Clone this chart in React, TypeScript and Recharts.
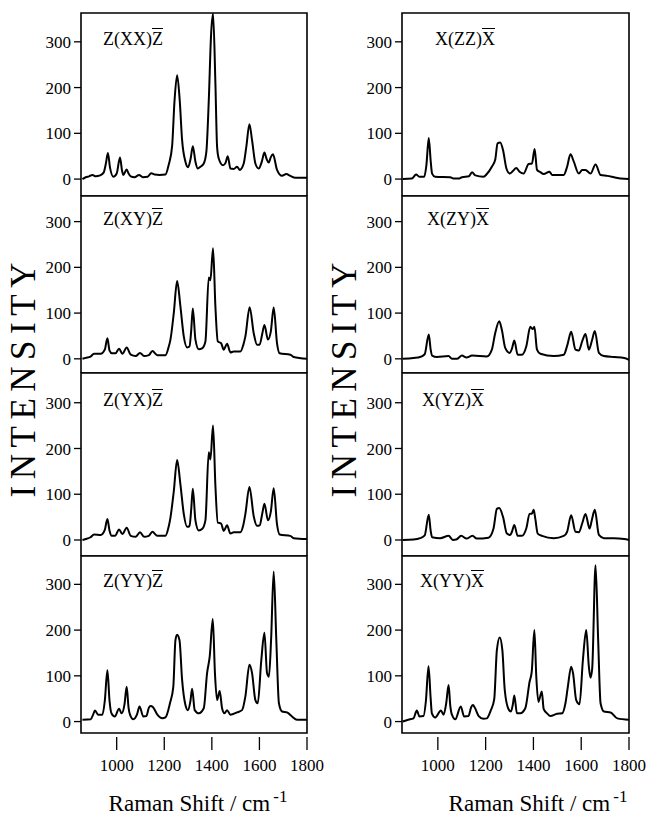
import React from 'react';
import { LineChart, Line, XAxis, YAxis, ReferenceArea } from 'recharts';

// Raman spectra, [wavenumber cm-1, intensity]
const zxx: [number, number][] = [
  [856, 0], [870, 4], [884, 6], [898, 9], [912, 6], [930, 8], [945, 14], [955, 35], [963, 57], [972, 25],
  [986, 5], [1000, 12], [1014, 47], [1022, 20], [1028, 9], [1042, 21], [1050, 12], [1059, 6], [1075, 4], [1094, 9],
  [1110, 4], [1130, 5], [1145, 13], [1160, 10], [1180, 9], [1205, 10], [1219, 32], [1233, 72], [1243, 170], [1254, 227],
  [1265, 172], [1275, 85], [1289, 38], [1300, 26], [1311, 45], [1320, 72], [1331, 38], [1341, 23], [1352, 27], [1366, 34],
  [1377, 60], [1387, 170], [1397, 318], [1405, 362], [1415, 209], [1422, 71], [1429, 45], [1447, 30], [1458, 36], [1467, 50],
  [1478, 23], [1492, 22], [1506, 27], [1517, 20], [1534, 34], [1545, 71], [1558, 120], [1569, 85], [1583, 34], [1597, 23],
  [1610, 38], [1621, 58], [1630, 44], [1639, 36], [1648, 48], [1657, 54], [1674, 20], [1695, 7], [1713, 11], [1730, 7],
  [1751, 3], [1800, 3],
];

const zxy: [number, number][] = [
  [856, 0], [870, 2], [890, 5], [905, 11], [933, 11], [950, 20], [961, 45], [970, 18], [980, 12], [995, 12],
  [1010, 22], [1024, 11], [1042, 25], [1059, 9], [1080, 6], [1098, 13], [1115, 6], [1135, 8], [1150, 17], [1171, 8],
  [1205, 8], [1218, 25], [1226, 42], [1240, 100], [1254, 170], [1268, 114], [1282, 49], [1296, 25], [1306, 27], [1313, 60],
  [1320, 110], [1331, 42], [1345, 21], [1359, 23], [1373, 38], [1387, 178], [1394, 172], [1405, 242], [1415, 114], [1425, 38],
  [1439, 34], [1450, 20], [1464, 33], [1478, 14], [1492, 16], [1520, 16], [1532, 30], [1541, 49], [1559, 113], [1576, 56],
  [1590, 31], [1601, 31], [1612, 55], [1621, 74], [1636, 42], [1648, 60], [1660, 112], [1674, 34], [1685, 12], [1730, 9],
  [1744, 4], [1800, 0],
];

const zyx: [number, number][] = [
  [856, 0], [870, 2], [890, 6], [905, 12], [933, 11], [950, 22], [961, 46], [970, 20], [979, 9], [993, 9],
  [1010, 23], [1024, 13], [1042, 27], [1059, 9], [1080, 7], [1098, 17], [1115, 7], [1135, 9], [1150, 18], [1171, 9],
  [1205, 9], [1218, 28], [1226, 49], [1240, 106], [1254, 175], [1268, 121], [1282, 57], [1296, 29], [1306, 30], [1313, 65],
  [1320, 112], [1331, 43], [1345, 21], [1359, 24], [1373, 43], [1387, 192], [1394, 176], [1405, 250], [1415, 118], [1425, 38],
  [1439, 36], [1450, 20], [1464, 32], [1478, 14], [1492, 17], [1520, 17], [1532, 32], [1541, 57], [1558, 116], [1576, 52],
  [1590, 31], [1601, 32], [1612, 58], [1621, 79], [1636, 43], [1648, 62], [1660, 113], [1674, 34], [1685, 12], [1730, 9],
  [1744, 4], [1800, 2],
];

const zyy: [number, number][] = [
  [856, 4], [891, 5], [900, 14], [909, 24], [922, 15], [940, 15], [950, 45], [961, 112], [970, 45], [978, 18],
  [992, 11], [1010, 28], [1021, 18], [1033, 38], [1042, 76], [1050, 30], [1056, 15], [1070, 5], [1085, 15], [1096, 33],
  [1112, 11], [1125, 12], [1135, 30], [1143, 34], [1152, 32], [1171, 15], [1192, 7], [1205, 9], [1224, 40], [1238, 76],
  [1247, 178], [1254, 190], [1264, 178], [1275, 91], [1289, 36], [1299, 25], [1310, 45], [1317, 72], [1328, 25], [1345, 18],
  [1366, 29], [1380, 106], [1391, 142], [1404, 224], [1413, 106], [1422, 47], [1433, 67], [1443, 29], [1453, 18], [1464, 25],
  [1478, 15], [1506, 20], [1527, 25], [1541, 55], [1558, 124], [1569, 106], [1583, 47], [1593, 40], [1608, 135], [1621, 194],
  [1632, 106], [1640, 98], [1649, 178], [1660, 328], [1671, 178], [1682, 40], [1695, 22], [1716, 20], [1737, 11], [1758, 4],
  [1800, 4],
];

const xzz: [number, number][] = [
  [853, 0], [891, 1], [909, 10], [923, 5], [943, 5], [952, 30], [962, 90], [970, 40], [976, 12], [989, 5],
  [1052, 4], [1066, 1], [1087, 1], [1101, 4], [1130, 6], [1143, 15], [1157, 8], [1191, 5], [1205, 11], [1226, 27],
  [1240, 42], [1250, 78], [1261, 80], [1273, 63], [1287, 23], [1301, 12], [1315, 18], [1328, 24], [1342, 16], [1359, 12],
  [1380, 33], [1394, 34], [1405, 66], [1415, 20], [1429, 15], [1443, 11], [1467, 16], [1478, 9], [1527, 9], [1541, 27],
  [1555, 54], [1569, 38], [1590, 12], [1604, 20], [1618, 20], [1639, 12], [1660, 32], [1681, 9], [1709, 7], [1737, 4],
  [1765, 1], [1800, 0],
];

const xzy: [number, number][] = [
  [853, 0], [898, 2], [926, 4], [945, 10], [962, 53], [970, 20], [976, 7], [996, 4], [1045, 6], [1059, 0],
  [1080, 0], [1101, 7], [1120, 3], [1143, 7], [1205, 5], [1226, 20], [1240, 56], [1257, 82], [1268, 63], [1282, 24],
  [1301, 13], [1310, 22], [1320, 40], [1334, 9], [1352, 9], [1370, 27], [1387, 70], [1397, 65], [1404, 70], [1415, 20],
  [1429, 11], [1485, 6], [1527, 9], [1542, 30], [1558, 59], [1576, 20], [1590, 18], [1605, 40], [1618, 54], [1632, 20],
  [1645, 40], [1657, 61], [1674, 13], [1695, 6], [1737, 4], [1780, 2], [1800, -2],
];

const xyz: [number, number][] = [
  [853, 0], [898, 1], [926, 4], [945, 10], [962, 55], [970, 20], [976, 6], [1010, 4], [1045, 9], [1063, 0],
  [1077, 1], [1098, 9], [1120, 3], [1145, 9], [1163, 3], [1212, 5], [1233, 25], [1247, 68], [1257, 70], [1273, 50],
  [1289, 14], [1303, 11], [1310, 18], [1320, 33], [1334, 9], [1352, 9], [1370, 25], [1384, 57], [1394, 58], [1401, 66],
  [1408, 46], [1418, 14], [1436, 9], [1485, 4], [1527, 9], [1541, 18], [1558, 54], [1576, 18], [1590, 17], [1604, 36],
  [1618, 57], [1635, 25], [1645, 45], [1657, 66], [1674, 11], [1695, 4], [1737, 4], [1780, 2], [1800, 0],
];

const xyy: [number, number][] = [
  [853, 0], [876, 4], [898, 7], [912, 24], [923, 11], [940, 12], [950, 45], [961, 121], [970, 50], [975, 18],
  [989, 9], [1013, 24], [1024, 15], [1035, 40], [1045, 80], [1052, 35], [1059, 15], [1073, 5], [1096, 33], [1110, 11],
  [1128, 12], [1140, 32], [1147, 36], [1155, 30], [1171, 12], [1191, 6], [1205, 7], [1222, 25], [1236, 49], [1247, 156],
  [1259, 184], [1270, 156], [1280, 69], [1296, 27], [1306, 22], [1314, 38], [1320, 57], [1331, 18], [1345, 18], [1366, 29],
  [1384, 87], [1393, 109], [1404, 200], [1412, 98], [1421, 43], [1435, 66], [1443, 27], [1457, 18], [1471, 12], [1499, 17],
  [1520, 18], [1534, 40], [1544, 76], [1558, 120], [1566, 105], [1579, 47], [1593, 38], [1607, 134], [1621, 200], [1632, 120],
  [1639, 96], [1646, 116], [1660, 342], [1671, 177], [1681, 40], [1695, 22], [1723, 20], [1751, 7], [1800, 4],
];

const xTicks = [1000, 1200, 1400, 1600, 1800];
const yTicks = [0, 100, 200, 300];
const X_DOMAIN: [number, number] = [850, 1800];

// stacked rows: pixel top, pixel height and y range of each
const rowTops = [13, 196, 373, 556];
const rowHeights = [183, 177, 183, 177];
const rowDomains: [number, number][] = [
  [-37, 363],
  [-31, 356],
  [-35, 365],
  [-25, 362],
];

const SERIF = "'Liberation Serif', 'Times New Roman', Times, 'DejaVu Serif', serif";
const Y_AXIS_W = 60;
const X_AXIS_H = 50;
const MARGIN = { top: 2, right: 20, bottom: 0, left: 0 };
const cols = [
  { plotLeft: 81, plotW: 226 },
  { plotLeft: 402, plotW: 227 },
];

const panels = [
  { data: zxx, col: 0, row: 0, pre: 'Z(XX)', bar: 'Z', labelX: 103 },
  { data: zxy, col: 0, row: 1, pre: 'Z(XY)', bar: 'Z', labelX: 103 },
  { data: zyx, col: 0, row: 2, pre: 'Z(YX)', bar: 'Z', labelX: 103 },
  { data: zyy, col: 0, row: 3, pre: 'Z(YY)', bar: 'Z', labelX: 103 },
  { data: xzz, col: 1, row: 0, pre: 'X(ZZ)', bar: 'X', labelX: 435 },
  { data: xzy, col: 1, row: 1, pre: 'X(ZY)', bar: 'X', labelX: 427 },
  { data: xyz, col: 1, row: 2, pre: 'X(YZ)', bar: 'X', labelX: 422 },
  { data: xyy, col: 1, row: 3, pre: 'X(YY)', bar: 'X', labelX: 420 },
];

const XTick = (props: any) => {
  const { x, y, payload } = props;
  return (
    <g>
      <line x1={x} x2={x} y1={y + 4} y2={y + 17} stroke="#000" strokeWidth={1.3} />
      <text x={x} y={y + 38} textAnchor="middle" style={{ fontFamily: SERIF, fontSize: 17 }} fill="#000">
        {payload.value}
      </text>
    </g>
  );
};

const YTick = (props: any) => {
  const { x, y, payload } = props;
  return (
    <text x={x} y={y} dy="0.36em" textAnchor="end" style={{ fontFamily: SERIF, fontSize: 17 }} fill="#000">
      {payload.value}
    </text>
  );
};

function Panel({ p }: { p: (typeof panels)[number] }) {
  const c = cols[p.col];
  const bottom = p.row === 3;
  const rows = p.data.map(([x, y]) => ({ x, y }));
  const top = rowTops[p.row];
  const plotH = rowHeights[p.row];
  const domain = rowDomains[p.row];
  const width = Y_AXIS_W + c.plotW + MARGIN.right;
  const height = MARGIN.top + plotH + (bottom ? X_AXIS_H : 0);
  // label sits level with the 300 tick
  const y300 = top + ((domain[1] - 300) / (domain[1] - domain[0])) * plotH;
  return (
    <>
      <div style={{ position: 'absolute', left: c.plotLeft - Y_AXIS_W, top: top - MARGIN.top }}>
        <LineChart width={width} height={height} data={rows} margin={MARGIN}>
          <XAxis
            dataKey="x"
            type="number"
            domain={X_DOMAIN}
            allowDataOverflow
            ticks={xTicks}
            hide={!bottom}
            axisLine={false}
            tickLine={false}
            tickSize={0}
            tickMargin={0}
            height={X_AXIS_H}
            tick={(t: any) => <XTick {...t} />}
          />
          <YAxis
            type="number"
            domain={domain}
            allowDataOverflow
            ticks={yTicks}
            interval={0}
            width={Y_AXIS_W}
            axisLine={false}
            tickSize={7}
            tickMargin={3}
            tickLine={{ stroke: '#000', strokeWidth: 1.3 }}
            tick={(t: any) => <YTick {...t} />}
          />
          <ReferenceArea
            x1={X_DOMAIN[0]}
            x2={X_DOMAIN[1]}
            y1={domain[0]}
            y2={domain[1]}
            fill="none"
            stroke="#000"
            strokeWidth={1.6}
          />
          <Line type="monotone" dataKey="y" stroke="#000" strokeWidth={2} dot={false} isAnimationActive={false} />
        </LineChart>
      </div>
      <div
        style={{
          position: 'absolute',
          left: p.labelX,
          top: y300 - 12,
          fontFamily: SERIF,
          fontSize: 18,
          lineHeight: '18px',
          whiteSpace: 'nowrap',
          color: '#000',
        }}
      >
        {p.pre}
        <span style={{ textDecoration: 'overline' }}>{p.bar}</span>
      </div>
    </>
  );
}

const Intensity = ({ cx }: { cx: number }) => (
  <div
    style={{
      position: 'absolute',
      left: cx,
      top: 380,
      transform: 'translate(-50%, -50%) rotate(-90deg)',
      fontFamily: SERIF,
      fontSize: 35,
      lineHeight: '35px',
      letterSpacing: 6.5,
      paddingLeft: 6.5,
      whiteSpace: 'nowrap',
      color: '#000',
    }}
  >
    INTENSITY
  </div>
);

const XTitle = ({ cx }: { cx: number }) => (
  <div
    style={{
      position: 'absolute',
      left: cx,
      top: 792,
      transform: 'translateX(-50%)',
      fontFamily: SERIF,
      fontSize: 23,
      lineHeight: '23px',
      whiteSpace: 'nowrap',
      color: '#000',
    }}
  >
    Raman Shift / cm
    <span style={{ fontSize: 17, position: 'relative', top: -9, marginLeft: 3 }}>-1</span>
  </div>
);

export default function App() {
  return (
    <div
      style={{
        position: 'absolute',
        left: 0,
        top: 0,
        width: 648,
        height: 819,
        overflow: 'hidden',
        background: '#fff',
        fontFamily: SERIF,
      }}
    >
      {panels.map((p) => (
        <Panel key={p.pre + p.col} p={p} />
      ))}
      <Intensity cx={23} />
      <Intensity cx={344} />
      <XTitle cx={198} />
      <XTitle cx={538} />
    </div>
  );
}
